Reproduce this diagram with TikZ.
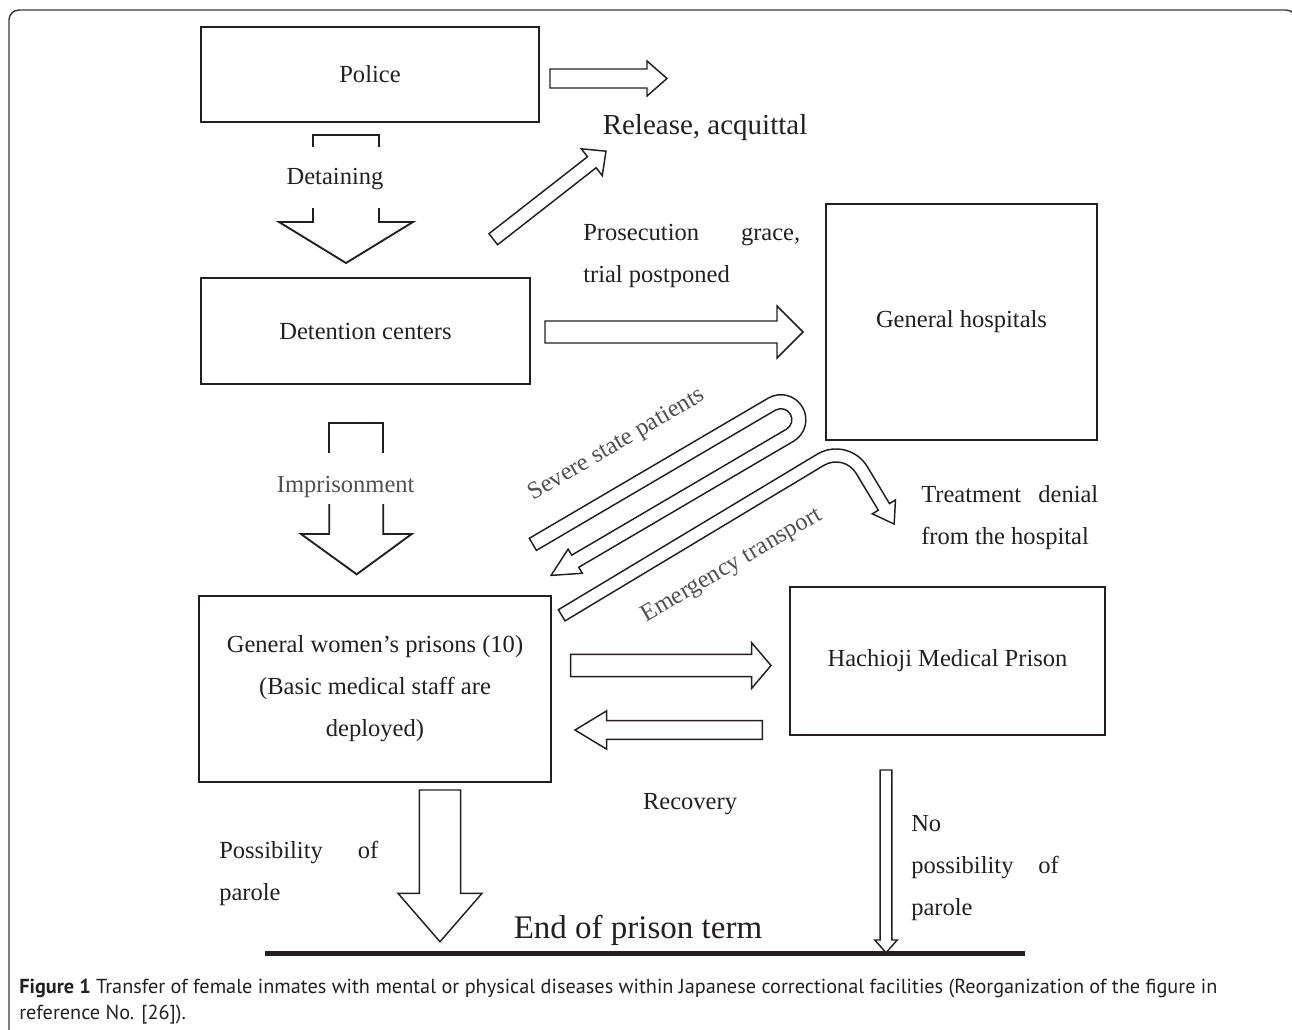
\documentclass[tikz,border=0pt]{standalone}
\usepackage{fontspec}
\setmainfont{Liberation Serif}
\newfontfamily\capfont{PT Sans}
\definecolor{ink}{HTML}{231F20}
\definecolor{graytext}{HTML}{505050}
\definecolor{framecol}{HTML}{3A3A3A}
\newcommand{\blockarrow}[6]{%
  \draw[barrow, shift={#1}, rotate=#2] (0,#4) -- ({#3-#5},#4) -- ({#3-#5},#6) -- (#3,0)
    -- ({#3-#5},-#6) -- ({#3-#5},-#4) -- (0,-#4) -- cycle;}
\begin{document}
\begin{tikzpicture}[x=0.75pt,y=0.75pt,
  box/.style={draw=ink, line width=1.4pt, inner sep=0pt, font=\fontsize{18.4}{31.5}\selectfont, text=ink},
  lab/.style={inner sep=0pt, font=\fontsize{18.4}{31.5}\selectfont, text=ink},
  glab/.style={lab, text=graytext},
  barrow/.style={draw=ink, line width=1.1pt, fill=white, line join=miter},
  hollow/.style={draw=ink, line width=1.4pt, line join=miter}]
\useasboundingbox (0,0) rectangle (1292,-1029);
\draw[framecol, line width=1.1pt, rounded corners=7.5pt] (9,-1060) rectangle (1296,-10);

% boxes
\node[box, minimum width=253.5pt, minimum height=71.25pt] (police) at (370,-74.5) {Police};
\node[box, minimum width=246.75pt, minimum height=79.5pt] (detention) at (365.5,-331) {Detention centers};
\node[box, minimum width=203.25pt, minimum height=177pt] (hospitals) at (961.5,-322) {General hospitals};
\node[box, minimum width=264pt, minimum height=139.5pt, align=center] (prisons) at (375,-689)
  {General women’s prisons (10)\\(Basic medical staff are\\deployed)};
\node[box, minimum width=236.25pt, minimum height=111pt] (hachioji) at (947.5,-661) {Hachioji Medical Prison};

% hollow bracket arrows
\draw[hollow] (313,-147) |- (379,-135) -- (379,-147);
\draw[hollow] (313,-208) -- (313,-222) -- (279,-222) -- (346,-263) -- (413,-222) -- (379,-222) -- (379,-208);
\draw[hollow] (329.3,-453.3) |- (383.3,-422.7) -- (383.3,-453.3);
\draw[hollow] (329.3,-504) -- (329.3,-534) -- (301,-534) -- (356.7,-574.3) -- (411.7,-534) -- (383.3,-534) -- (383.3,-504);

% block arrows
\blockarrow{(550,-78.5)}{0}{117}{9.5}{20}{17.5}
\blockarrow{(493.3,-239.2)}{38}{143}{7}{18}{17}
\blockarrow{(545,-332)}{0}{258}{11}{26}{26}
\blockarrow{(570.7,-665.5)}{0}{200.3}{11.2}{19.3}{22.8}
\blockarrow{(762.3,-730)}{180}{187.3}{9.3}{31.7}{19.2}
\blockarrow{(440,-790)}{-90}{151.7}{20.6}{48.4}{42}
\blockarrow{(886,-770)}{-90}{182.7}{5.85}{12.7}{11.2}

% U-turn arrow (severe state patients)
\begin{scope}[shift={(529.3,-538.3)}, rotate=30.4]
\draw[barrow] (0,0) -- (277,0) arc[start angle=90, end angle=-90, radius=25] -- (28,-50) -- (28,-57)
  -- (0,-43) -- (28,-29) -- (28,-36) -- (277,-36) arc[start angle=-90, end angle=90, radius=11]
  -- (0,-14) -- cycle;
\end{scope}
% emergency transport arrow
\begin{scope}[shift={(561.7,-615.3)}, rotate=31]
\draw[barrow] (0,6.5) -- (302,6.5) arc[start angle=90, end angle=0, radius=36.5] -- (338.5,-73)
  -- (345.5,-73) -- (332,-93) -- (318.5,-73) -- (325.5,-73) -- (325.5,-30)
  arc[start angle=0, end angle=90, radius=23.5] -- (0,-6.5) -- cycle;
\end{scope}

% labels
\node[lab, font=\fontsize{21.75}{26}\selectfont] (release) at (705,-128) {Release, acquittal};
\node[lab] (detaining) at (335,-179) {Detaining};
\node[lab, anchor=west, align=left] (prosecution) at (583,-256)
  {\makebox[162.75pt][s]{Prosecution\hfill grace,}\\trial postponed};
\node[glab] (imprisonment) at (345.7,-487) {Imprisonment};
\node[glab, rotate=30.5] (severe) at (617,-445) {Severe state patients};
\node[glab, rotate=30.3] (emergency) at (732,-566) {Emergency transport};
\node[lab, anchor=west, align=left] (denial) at (921,-517.5)
  {\makebox[132.75pt][s]{Treatment\hfill denial}\\from the hospital};
\node[lab] (recovery) at (690,-804) {Recovery};
\node[lab, anchor=west, align=left] (parole1) at (219,-873.5)
  {\makebox[119.25pt][s]{Possibility\hfill of}\\parole};
\node[lab, anchor=west, align=left] (parole2) at (911,-868)
  {No\\\makebox[110.6pt][s]{possibility\hfill of}\\parole};
\node[lab, font=\fontsize{24.75}{30}\selectfont] (endterm) at (638,-930) {End of prison term};
\coordinate (lineL) at (265,-953);
\coordinate (lineR) at (1025,-953);
\draw[ink, line width=3.75pt] (lineL) -- (lineR);

% caption
\node[anchor=north west, align=left, inner sep=0pt, text=ink, font=\capfont\fontsize{15.2}{19}\selectfont] (caption) at (19,-979)
  {\textbf{Figure 1} Transfer of female inmates with mental or physical diseases within Japanese correctional facilities (Reorganization of the figure in\\reference No. [26]).};
\end{tikzpicture}
\end{document}
